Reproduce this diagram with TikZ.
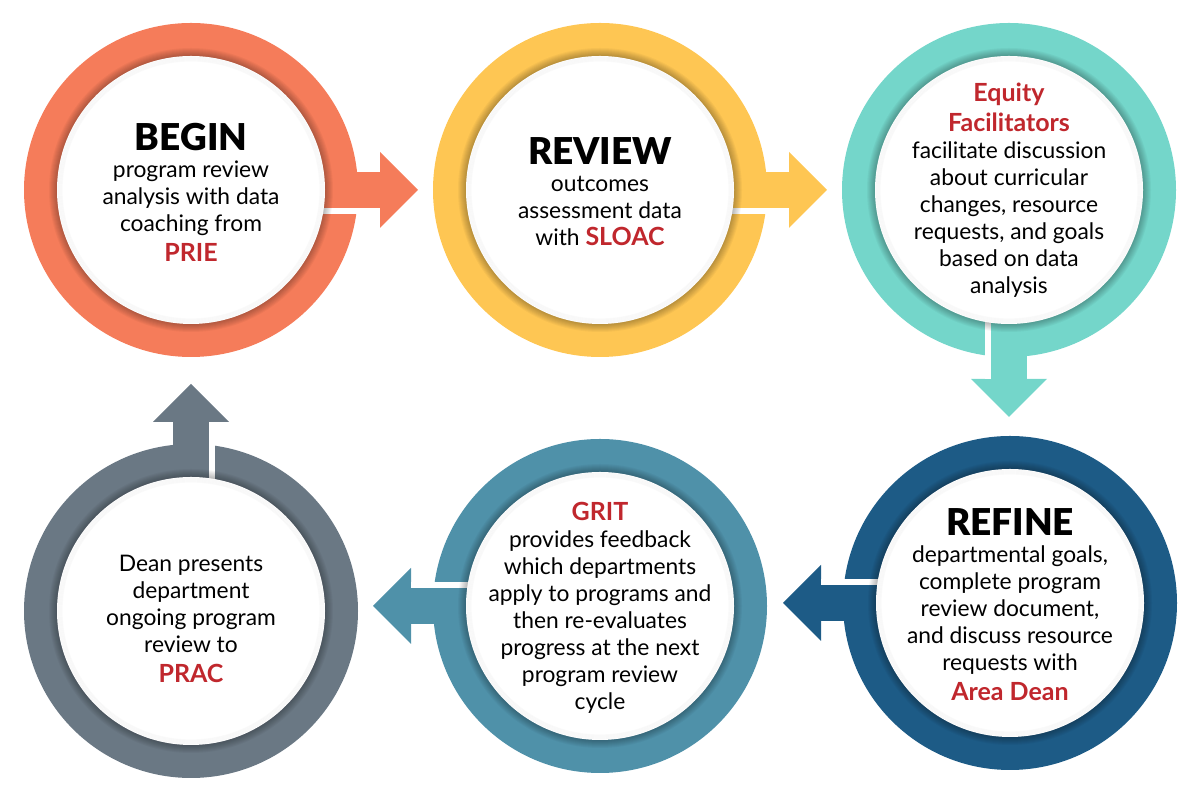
\documentclass[tikz,border=0pt]{standalone}
\usepackage{fontspec}
\usepackage{xcolor}
\setmainfont{Lato}
\newfontfamily\headfont{Lato Black}

\definecolor{begincol}{HTML}{F57C5A}
\definecolor{reviewcol}{HTML}{FEC653}
\definecolor{equitycol}{HTML}{74D6CA}
\definecolor{refinecol}{HTML}{1D5B86}
\definecolor{gritcol}{HTML}{4F91A9}
\definecolor{praccol}{HTML}{6A7884}
\definecolor{accent}{HTML}{C0272D}

\newcommand\stagehead[1]{{\headfont\fontsize{37}{37}\selectfont #1}}
\newcommand\stagename[1]{{\bfseries\color{accent}\fontsize{25}{25}\selectfont #1}}

\begin{document}
\begin{tikzpicture}[x=1pt,y=1pt,
                    txt/.style={align=center,inner sep=0pt,
                                font=\fontsize{22.8}{27}\selectfont}]
\useasboundingbox (0,0) rectangle (1200,791);

% centres of the six stages
\coordinate (begin)  at (191,601);
\coordinate (review) at (600,601);
\coordinate (equity) at (1009,601);
\coordinate (refine) at (1010,188);
\coordinate (grit)   at (600,185);
\coordinate (prac)   at (191,180);

% rings with their arrows
\foreach \c/\ang/\col in {begin/0/begincol, review/0/reviewcol,
                          equity/-90/equitycol, refine/180/refinecol,
                          grit/180/gritcol, prac/90/praccol}{
  \begin{scope}[shift={(\c)},rotate=\ang]
    \fill[\col] (0,0) circle (167);
    \fill[\col] (0,-18) rectangle (189,18);
    \fill[\col] (189,-38) -- (227,0) -- (189,38) -- cycle;
    \fill[white] (110,-24) rectangle (189,-18);
    \foreach \k in {1,...,8}
      \fill[black,opacity=0.035] (0,0) circle (134+\k);
    \fill[white] (0,0) circle (134);
    \foreach \k in {0,...,4}
      \draw[black,opacity=0.02,line width=1.2pt] (0,0) circle (133-\k);
  \end{scope}
}

% texts
\node[txt] (begintext) at ([yshift=-2]begin)
  {\stagehead{BEGIN}\\ program review\\ analysis with data\\ coaching from\\[3pt]
   \stagename{PRIE}};
\node[txt] (reviewtext) at ([yshift=-2]review)
  {\stagehead{REVIEW}\\ outcomes\\ assessment data\\ with \stagename{SLOAC}};
\node[txt] (equitytext) at (equity)
  {\stagename{Equity}\\[3pt] \stagename{Facilitators}\\ facilitate discussion\\
   about curricular\\ changes, resource\\ requests, and goals\\ based on data\\ analysis};
\node[txt] (refinetext) at ([yshift=-2]refine)
  {\stagehead{REFINE}\\ departmental goals,\\ complete program\\ review document,\\
   and discuss resource\\ requests with\\[3pt] \stagename{Area Dean}};
\node[txt] (grittext) at ([yshift=-2]grit)
  {\stagename{GRIT}\\ provides feedback\\ which departments\\ apply to programs and\\
   then re-evaluates\\ progress at the next\\ program review\\ cycle};
\node[txt] (practext) at ([yshift=-8]prac)
  {Dean presents\\ department\\ ongoing program\\ review to\\[3pt] \stagename{PRAC}};
\end{tikzpicture}
\end{document}
